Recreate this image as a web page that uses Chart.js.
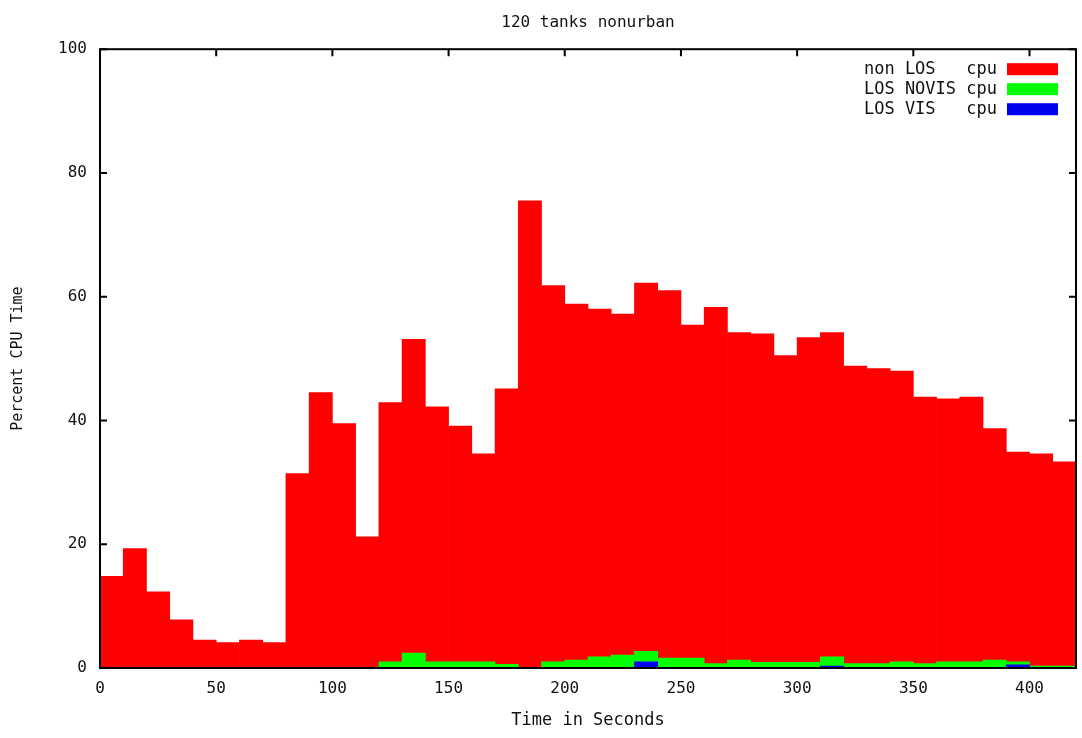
<!DOCTYPE html>
<html>
<head>
<meta charset="utf-8">
<title>120 tanks nonurban</title>
<script src="https://cdn.jsdelivr.net/npm/chart.js@4.4.1/dist/chart.umd.min.js"></script>
<style>
  html, body { margin: 0; padding: 0; background: #fff; }
  #wrap { width: 1082px; height: 738px; }
</style>
</head>
<body>
<div id="wrap"><canvas id="chart"></canvas></div>
<script>
// bin centres, seconds (10 s bins)
const times = [5, 15, 25, 35, 45, 55, 65, 75, 85, 95, 105, 115, 125, 135, 145, 155, 165, 175, 185, 195,
  205, 215, 225, 235, 245, 255, 265, 275, 285, 295, 305, 315, 325, 335, 345, 355, 365, 375, 385, 395, 405, 415];

const nonLos = [14.8, 19.3, 12.3, 7.8, 4.5, 4.1, 4.5, 4.1, 31.4, 44.5, 39.5, 21.2, 42.9, 53.1, 42.2, 39.1, 34.6, 45.1, 75.5, 61.8,
  58.8, 58.0, 57.2, 62.2, 61.0, 55.4, 58.3, 54.2, 54.0, 50.5, 53.4, 54.2, 48.8, 48.4, 48.0, 43.8, 43.5, 43.8, 38.7, 34.9, 34.6, 33.3];

const losNovis = [0, 0, 0, 0, 0, 0, 0, 0, 0, 0, 0, 0, 1.0, 2.4, 1.0, 1.0, 1.0, 0.6, 0, 1.0,
  1.3, 1.8, 2.1, 2.7, 1.6, 1.6, 0.7, 1.3, 0.9, 0.9, 0.9, 1.8, 0.7, 0.7, 1.0, 0.7, 1.0, 1.0, 1.3, 1.0, 0.3, 0.3];

const losVis = [0, 0, 0, 0, 0, 0, 0, 0, 0, 0, 0, 0, 0, 0, 0, 0, 0, 0, 0, 0,
  0, 0, 0, 1.0, 0, 0, 0, 0, 0, 0, 0, 0.3, 0, 0, 0, 0, 0, 0, 0, 0.5, 0, 0];

const seriesLabels = ["non LOS   cpu", "LOS NOVIS cpu", "LOS VIS   cpu"];
const seriesColors = ["#ff0000", "#00ff00", "#0000f0"];

const xTicks = [0, 50, 100, 150, 200, 250, 300, 350, 400];
const yTicks = [0, 20, 40, 60, 80, 100];

const FONT = '"DejaVu Sans Mono", "Liberation Mono", monospace';

function points(values) {
  return times.map((t, i) => ({ x: t, y: values[i] })).filter(p => p.y > 0);
}

// gnuplot style: ticks under the boxes, border on top
const frame = {
  id: "frame",
  beforeDatasetsDraw(chart) {
    const { ctx, chartArea: a, scales: { x, y } } = chart;
    ctx.save();
    ctx.strokeStyle = "#000";
    ctx.lineWidth = 2;
    ctx.beginPath();
    xTicks.forEach(v => {
      const px = x.getPixelForValue(v);
      ctx.moveTo(px, a.bottom); ctx.lineTo(px, a.bottom - 7);
      ctx.moveTo(px, a.top); ctx.lineTo(px, a.top + 7);
    });
    yTicks.forEach(v => {
      const py = y.getPixelForValue(v);
      ctx.moveTo(a.left, py); ctx.lineTo(a.left + 7, py);
      ctx.moveTo(a.right, py); ctx.lineTo(a.right - 7, py);
    });
    ctx.stroke();
    ctx.restore();
  },
  afterDatasetsDraw(chart) {
    const { ctx, chartArea: a } = chart;
    ctx.save();
    ctx.strokeStyle = "#000";
    ctx.lineWidth = 2;
    ctx.strokeRect(a.left, a.top, a.right - a.left, a.bottom - a.top);

    // key, text left of the sample
    ctx.font = "17px " + FONT;
    ctx.textAlign = "right";
    ctx.textBaseline = "middle";
    chart.data.datasets.forEach((ds, i) => {
      const yy = a.top + 20 + i * 20;
      ctx.fillStyle = "#111";
      ctx.fillText(ds.label, a.right - 79, yy);
      ctx.fillStyle = ds.backgroundColor;
      ctx.fillRect(a.right - 69, yy - 6, 51, 12);
    });
    ctx.restore();
  }
};

new Chart(document.getElementById("chart"), {
  type: "bar",
  data: {
    datasets: [
      { label: seriesLabels[0], data: points(nonLos), backgroundColor: seriesColors[0], order: 3 },
      { label: seriesLabels[1], data: points(losNovis), backgroundColor: seriesColors[1], order: 2 },
      { label: seriesLabels[2], data: points(losVis), backgroundColor: seriesColors[2], order: 1 }
    ]
  },
  options: {
    responsive: true,
    maintainAspectRatio: false,
    animation: false,
    layout: { padding: { left: 0, right: 6, top: 0, bottom: 0 } },
    datasets: {
      bar: { grouped: false, barPercentage: 1, categoryPercentage: 1, borderWidth: 0 }
    },
    plugins: {
      legend: { display: false },
      tooltip: { enabled: false },
      title: {
        display: true,
        fullSize: false,
        text: "120 tanks nonurban",
        color: "#111",
        font: { family: FONT, size: 16, weight: "normal" },
        padding: { top: 13, bottom: 17 }
      }
    },
    scales: {
      x: {
        type: "linear",
        min: 0,
        max: 420,
        offset: false,
        grid: { display: false, drawTicks: false, offset: false },
        border: { display: false },
        afterBuildTicks: s => { s.ticks = xTicks.map(v => ({ value: v })); },
        afterFit: s => { s.height = 70; },
        ticks: { color: "#111", padding: 11, maxRotation: 0, font: { family: FONT, size: 16 } },
        title: {
          display: true,
          text: "Time in Seconds",
          color: "#111",
          font: { family: FONT, size: 17 },
          padding: { top: 0, bottom: 7 }
        }
      },
      y: {
        min: 0,
        max: 100,
        grid: { display: false, drawTicks: false },
        border: { display: false },
        afterBuildTicks: s => { s.ticks = yTicks.map(v => ({ value: v })); },
        afterFit: s => { s.width = 100; },
        ticks: { color: "#111", padding: 13, font: { family: FONT, size: 16 } },
        title: {
          display: true,
          text: "Percent CPU Time",
          color: "#111",
          font: { family: FONT, size: 15 },
          padding: { top: 9, bottom: 0 }
        }
      }
    }
  },
  plugins: [frame]
});
</script>
</body>
</html>
